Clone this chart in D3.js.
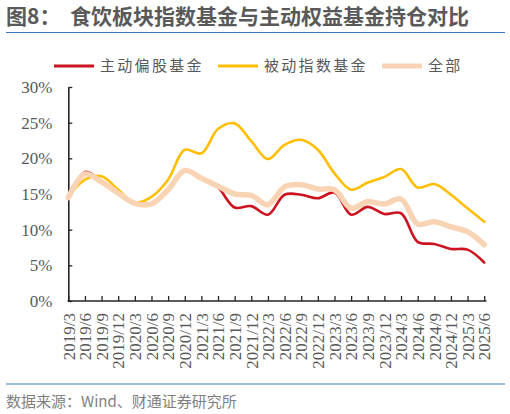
<!DOCTYPE html>
<html>
<head>
<meta charset="utf-8">
<script src="https://cdn.jsdelivr.net/npm/d3@7.9.0/dist/d3.min.js"></script>
<style>
  html, body { margin: 0; padding: 0; background: #fff; }
  svg { display: block; }
  .cn { font-family: "Noto Sans CJK SC", "Noto Sans", sans-serif; }
  .num { font-family: "Liberation Serif", "DejaVu Serif", serif; }
</style>
</head>
<body>
<svg id="chart" width="510" height="414"></svg>
<script>
// quarter labels
const quarters = ['2019/3', '2019/6', '2019/9', '2019/12', '2020/3', '2020/6', '2020/9', '2020/12',
  '2021/3', '2021/6', '2021/9', '2021/12', '2022/3', '2022/6', '2022/9', '2022/12',
  '2023/3', '2023/6', '2023/9', '2023/12', '2024/3', '2024/6', '2024/9', '2024/12',
  '2025/3', '2025/6'];

// holdings share, %
const activeFund = [14.3, 18.1, 16.8, 15.0, 13.8, 13.7, 15.6, 18.2, 17.2, 15.9, 13.1, 13.3, 12.1,
  14.9, 14.9, 14.4, 15.2, 12.1, 13.2, 12.2, 12.3, 8.3, 8.0, 7.3, 7.2, 5.4];
const indexFund = [14.6, 17.0, 17.5, 15.6, 13.8, 14.6, 17.0, 21.2, 20.7, 24.1, 24.9, 22.4, 19.9,
  21.9, 22.6, 21.2, 17.9, 15.6, 16.6, 17.4, 18.5, 15.9, 16.4, 14.9, 13.0, 11.1];
const allFund = [14.5, 17.8, 16.7, 15.1, 13.7, 13.6, 15.6, 18.3, 17.2, 16.1, 15.0, 14.8, 13.5,
  16.0, 16.3, 15.7, 15.6, 13.0, 13.9, 13.6, 14.3, 10.8, 11.1, 10.4, 9.7, 7.9];

const seriesNames = ['主动偏股基金', '被动指数基金', '全部'];
const yTicks = [0, 5, 10, 15, 20, 25, 30];

const series = [
  { name: seriesNames[0], values: activeFund, color: '#cc1420', width: 2.6 },
  { name: seriesNames[1], values: indexFund, color: '#ffbe00', width: 2.6 },
  { name: seriesNames[2], values: allFund, color: '#f9d4b4', width: 5.5 },
];

const svg = d3.select('#chart');

// title
const title = svg.append('text')
  .attr('class', 'cn')
  .attr('y', 24)
  .attr('fill', '#595959')
  .attr('font-size', 21)
  .attr('font-weight', 700);
title.append('tspan').attr('x', 6).text('图8：');
title.append('tspan').attr('x', 70).text('食饮板块指数基金与主动权益基金持仓对比');

svg.append('line')
  .attr('x1', 6).attr('x2', 505).attr('y1', 32.5).attr('y2', 32.5)
  .attr('stroke', '#3a78c0').attr('stroke-width', 1.2);

// legend
let legendX = [54, 218, 382];
let legend = svg.append('g');
series.forEach((s, idx) => {
  let g = legend.append('g').attr('transform', `translate(${legendX[idx]},66)`);
  g.append('line')
    .attr('x1', 0).attr('x2', 40)
    .attr('stroke', s.color)
    .attr('stroke-width', idx === 2 ? 5 : 3);
  g.append('text')
    .attr('class', 'cn')
    .attr('x', 46)
    .attr('dy', '0.36em')
    .attr('font-size', 15)
    .attr('letter-spacing', 2.3)
    .attr('fill', '#595959')
    .text(s.name);
});

// scales
let x = d3.scalePoint().domain(quarters).range([68.3, 484.2]);
let y = d3.scaleLinear().domain([0, 30]).range([301, 87]);

// y axis
let yAxis = svg.append('g')
  .attr('transform', 'translate(68.3,0)')
  .call(d3.axisLeft(y)
    .tickValues(yTicks)
    .tickFormat((d) => d + '%')
    .tickSizeInner(-4)
    .tickSizeOuter(0)
    .tickPadding(16));
yAxis.select('.domain').attr('stroke', '#262626').attr('stroke-width', 1.6);
yAxis.selectAll('.tick line').attr('stroke', '#262626').attr('stroke-width', 1.3);
yAxis.selectAll('.tick text')
  .attr('class', 'num')
  .attr('font-size', 17)
  .attr('fill', '#595959');

// x axis
let xAxis = svg.append('g')
  .attr('transform', 'translate(0,301)')
  .call(d3.axisBottom(x).tickSizeInner(-5).tickSizeOuter(0));
xAxis.select('.domain').remove();
xAxis.append('line')
  .attr('x1', 67.5).attr('x2', 486.5)
  .attr('stroke', '#262626').attr('stroke-width', 1.6);
xAxis.selectAll('.tick line').attr('stroke', '#262626').attr('stroke-width', 1.3);
xAxis.selectAll('.tick text')
  .attr('class', 'num')
  .attr('font-size', 17)
  .attr('fill', '#595959')
  .attr('transform', 'rotate(-90)')
  .attr('text-anchor', 'end')
  .attr('x', -12)
  .attr('y', 0)
  .attr('dy', '0.34em');

// lines
let lineGen = d3.line()
  .x((d, i) => x(quarters[i]))
  .y((d) => y(d))
  .curve(d3.curveCatmullRom.alpha(0.5));

series.forEach((s) => {
  svg.append('path')
    .attr('d', lineGen(s.values))
    .attr('fill', 'none')
    .attr('stroke', s.color)
    .attr('stroke-width', s.width)
    .attr('stroke-linejoin', 'round')
    .attr('stroke-linecap', 'round');
});

// footer
svg.append('line')
  .attr('x1', 6).attr('x2', 505).attr('y1', 384).attr('y2', 384)
  .attr('stroke', '#3a78c0').attr('stroke-width', 1.2);

svg.append('text')
  .attr('class', 'cn')
  .attr('x', 6)
  .attr('y', 407)
  .attr('font-size', 15)
  .attr('fill', '#7f7f7f')
  .text('数据来源：Wind、财通证券研究所');
</script>
</body>
</html>
